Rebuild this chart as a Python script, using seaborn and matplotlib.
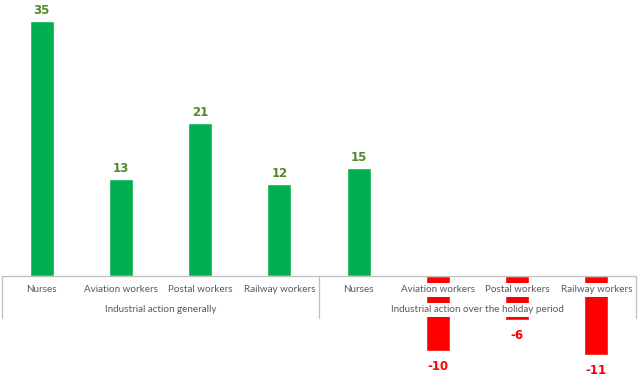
import matplotlib
matplotlib.use("Agg")
import matplotlib.pyplot as plt
import seaborn as sns
import pandas as pd

groups = ["Industrial action generally"] * 4 + ["Industrial action over the holiday period"] * 4
categories = ["Nurses", "Aviation workers", "Postal workers", "Railway workers"] * 2
values = [35.0, 13.3, 21.0, 12.6, 14.8, -10.3, -6.0, -10.8]
value_labels = ["35", "13", "21", "12", "15", "-10", "-6", "-11"]
group_names = ["Industrial action generally", "Industrial action over the holiday period"]

sns.set_theme(style="white")
plt.rcParams['font.family'] = ['Lato', 'DejaVu Sans']

keys = [f"{g}|{c}" for g, c in zip(groups, categories)]
sign = ["pos" if v >= 0 else "neg" for v in values]
df = pd.DataFrame({"key": keys, "value": values, "sign": sign})

GREEN = "#00B050"
RED = "#FF0000"
LABEL_GREEN = "#4E8A2A"

fig = plt.figure(figsize=(6.4, 3.77), dpi=100)
ax = fig.add_axes([2 / 640, 0, 634 / 640, 1])
sns.barplot(data=df, x="key", y="value", hue="sign", palette={"pos": GREEN, "neg": RED},
            width=0.30, dodge=False, legend=False, ax=ax, order=keys, zorder=1,
            saturation=1)

ax.set_xlim(-0.5, 7.5)
ax.set_ylim(-101 / 7.3, 276 / 7.3)
for s in ax.spines.values():
    s.set_visible(False)
ax.set_xticks([])
ax.set_yticks([])
ax.set_xlabel("")
ax.set_ylabel("")

ax.axhline(0, color="#BFBFBF", lw=0.9, zorder=3)

xt = ax.get_xaxis_transform()
def fy(py):
    return 1 - py / 377

# value labels
for i, (v, lab) in enumerate(zip(values, value_labels)):
    if v >= 0:
        ax.annotate(lab, (i, v), xytext=(0, 7.4), textcoords="offset points",
                    ha="center", va="center", fontsize=8.5, fontweight="bold",
                    color=LABEL_GREEN, family="DejaVu Sans")
    else:
        ax.annotate(lab, (i, v), xytext=(0, -11.0), textcoords="offset points",
                    ha="center", va="center", fontsize=8.5, fontweight="bold",
                    color=RED, family="DejaVu Sans")

# category tick labels with white background
for i, c in enumerate(categories):
    ax.text(i, fy(290), c, transform=xt, ha="center", va="center", fontsize=7.1,
            color="#595959", zorder=4,
            bbox=dict(facecolor="white", edgecolor="none", pad=1.5))

# group labels
for gi, g in enumerate(group_names):
    ax.text(gi * 4 + 1.5, fy(310), g, transform=xt, ha="center", va="center", fontsize=7.1,
            color="#595959", zorder=4,
            bbox=dict(facecolor="white", edgecolor="none", pad=1.5))

# separators
for xb in [-0.5, 3.5, 7.5]:
    ax.plot([xb, xb], [fy(276), fy(318)], transform=xt, color="#BFBFBF", lw=0.9,
            clip_on=False, zorder=3)

fig.savefig("out.png", dpi=100)
